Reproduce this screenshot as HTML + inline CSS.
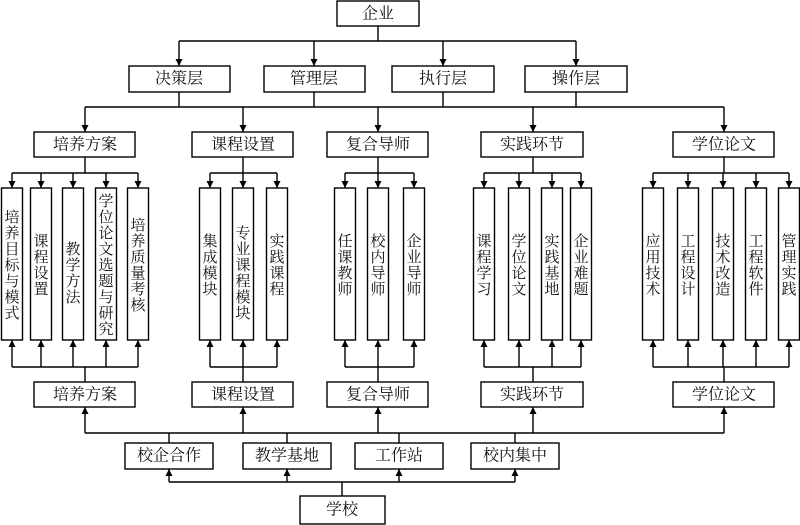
<!DOCTYPE html>
<html><head><meta charset="utf-8"><style>
html,body{margin:0;padding:0;background:#fff;}
svg{display:block;}
text{font-family:"Liberation Serif","Noto Serif CJK SC",serif;fill:#111;}
.b{font-size:16px;text-anchor:middle;dominant-baseline:central;}
.v{font-size:15px;text-anchor:middle;}
</style></head><body>
<svg width="800" height="525" viewBox="0 0 800 525">
<defs>
<marker id="a" viewBox="0 0 10 10" refX="10" refY="5" markerWidth="7" markerHeight="7" markerUnits="userSpaceOnUse" orient="auto"><path d="M0,0 L10,5 L0,10 z" fill="#000"/></marker>
</defs>
<g fill="none" stroke="#000" stroke-width="1.4">
<path d="M378 26V41M179 41H576"/>
<path d="M179 92V107M314 92V107M443 92V107M576 92V107M85 107H724"/>
<path d="M85 157V173M12 173H138M243 157V173M210 173H277M378 157V173M345 173H414M533 157V173M484 173H581M724 157V173M653 173H789"/>
<path d="M85 382V367M12 367H138M243 382V367M210 367H277M378 382V367M345 367H414M533 382V367M484 367H581M724 382V367M653 367H789"/>
<path d="M85 433H724M169 443V433M287 443V433M399 443V433M515 443V433"/>
<path d="M342 496V482M169 482H515"/>
</g>
<g fill="none" stroke="#000" stroke-width="1.4" marker-end="url(#a)">
<path d="M179 41V66"/><path d="M314 41V66"/><path d="M443 41V66"/><path d="M576 41V66"/>
<path d="M85 107V132"/><path d="M243 107V132"/><path d="M378 107V132"/><path d="M533 107V132"/><path d="M724 107V132"/>
<path d="M12 173V188"/><path d="M41 173V188"/><path d="M73 173V188"/><path d="M106 173V188"/><path d="M138 173V188"/>
<path d="M210 173V188"/><path d="M243 173V188"/><path d="M277 173V188"/>
<path d="M345 173V188"/><path d="M378 173V188"/><path d="M414 173V188"/>
<path d="M484 173V188"/><path d="M519 173V188"/><path d="M552 173V188"/><path d="M581 173V188"/>
<path d="M653 173V188"/><path d="M688 173V188"/><path d="M723 173V188"/><path d="M756 173V188"/><path d="M789 173V188"/>
<path d="M12 367V340"/><path d="M41 367V340"/><path d="M73 367V340"/><path d="M106 367V340"/><path d="M138 367V340"/>
<path d="M210 367V340"/><path d="M243 367V340"/><path d="M277 367V340"/>
<path d="M345 367V340"/><path d="M378 367V340"/><path d="M414 367V340"/>
<path d="M484 367V340"/><path d="M519 367V340"/><path d="M552 367V340"/><path d="M581 367V340"/>
<path d="M653 367V340"/><path d="M688 367V340"/><path d="M723 367V340"/><path d="M756 367V340"/><path d="M789 367V340"/>
<path d="M85 433V407"/><path d="M243 433V407"/><path d="M378 433V407"/><path d="M533 433V407"/><path d="M724 433V407"/>
<path d="M169 482V469"/><path d="M287 482V469"/><path d="M399 482V469"/><path d="M515 482V469"/>
</g>
<g fill="#fff" stroke="#000" stroke-width="1.4">
<rect x="337" y="1" width="82" height="25"/>
<rect x="129" y="66" width="101" height="26"/>
<rect x="264" y="66" width="101" height="26"/>
<rect x="392" y="66" width="102" height="26"/>
<rect x="525" y="66" width="102" height="26"/>
<rect x="34" y="132" width="101" height="25"/>
<rect x="192" y="132" width="101" height="25"/>
<rect x="327" y="132" width="101" height="25"/>
<rect x="481" y="132" width="102" height="25"/>
<rect x="673" y="132" width="101" height="25"/>
<rect x="34" y="382" width="101" height="25"/>
<rect x="192" y="382" width="101" height="25"/>
<rect x="327" y="382" width="101" height="25"/>
<rect x="481" y="382" width="102" height="25"/>
<rect x="673" y="382" width="101" height="25"/>
<rect x="125" y="443" width="88" height="26"/>
<rect x="243" y="443" width="88" height="26"/>
<rect x="355" y="443" width="88" height="26"/>
<rect x="471" y="443" width="88" height="26"/>
<rect x="300" y="496" width="85" height="28"/>
<rect x="1.5" y="188" width="21" height="152"/>
<rect x="30.5" y="188" width="21" height="152"/>
<rect x="62.5" y="188" width="21" height="152"/>
<rect x="95.5" y="188" width="21" height="152"/>
<rect x="127.5" y="188" width="21" height="152"/>
<rect x="199.5" y="188" width="21" height="152"/>
<rect x="232.5" y="188" width="21" height="152"/>
<rect x="266.5" y="188" width="21" height="152"/>
<rect x="334.5" y="188" width="21" height="152"/>
<rect x="367.5" y="188" width="21" height="152"/>
<rect x="403.5" y="188" width="21" height="152"/>
<rect x="473.5" y="188" width="21" height="152"/>
<rect x="508.5" y="188" width="21" height="152"/>
<rect x="541.5" y="188" width="21" height="152"/>
<rect x="570.5" y="188" width="21" height="152"/>
<rect x="642.5" y="188" width="21" height="152"/>
<rect x="677.5" y="188" width="21" height="152"/>
<rect x="712.5" y="188" width="21" height="152"/>
<rect x="745.5" y="188" width="21" height="152"/>
<rect x="778.5" y="188" width="21" height="152"/>
</g>
<text class="b" x="378" y="14">企业</text>
<text class="b" x="179" y="79">决策层</text>
<text class="b" x="314" y="79">管理层</text>
<text class="b" x="443" y="79">执行层</text>
<text class="b" x="576" y="79">操作层</text>
<text class="b" x="85" y="145">培养方案</text>
<text class="b" x="243" y="145">课程设置</text>
<text class="b" x="378" y="145">复合导师</text>
<text class="b" x="532" y="145">实践环节</text>
<text class="b" x="724" y="145">学位论文</text>
<text class="b" x="85" y="395">培养方案</text>
<text class="b" x="243" y="395">课程设置</text>
<text class="b" x="378" y="395">复合导师</text>
<text class="b" x="532" y="395">实践环节</text>
<text class="b" x="724" y="395">学位论文</text>
<text class="b" x="169" y="456">校企合作</text>
<text class="b" x="287" y="456">教学基地</text>
<text class="b" x="399" y="456">工作站</text>
<text class="b" x="515" y="456">校内集中</text>
<text class="b" x="342" y="510">学校</text>
<text class="v" x="12"><tspan x="12" y="222">培</tspan><tspan x="12" dy="16">养</tspan><tspan x="12" dy="16">目</tspan><tspan x="12" dy="16">标</tspan><tspan x="12" dy="16">与</tspan><tspan x="12" dy="16">模</tspan><tspan x="12" dy="16">式</tspan></text>
<text class="v" x="41"><tspan x="41" y="246">课</tspan><tspan x="41" dy="16">程</tspan><tspan x="41" dy="16">设</tspan><tspan x="41" dy="16">置</tspan></text>
<text class="v" x="73"><tspan x="73" y="254">教</tspan><tspan x="73" dy="16">学</tspan><tspan x="73" dy="16">方</tspan><tspan x="73" dy="16">法</tspan></text>
<text class="v" x="106"><tspan x="106" y="206">学</tspan><tspan x="106" dy="16">位</tspan><tspan x="106" dy="16">论</tspan><tspan x="106" dy="16">文</tspan><tspan x="106" dy="16">选</tspan><tspan x="106" dy="16">题</tspan><tspan x="106" dy="16">与</tspan><tspan x="106" dy="16">研</tspan><tspan x="106" dy="16">究</tspan></text>
<text class="v" x="138"><tspan x="138" y="230">培</tspan><tspan x="138" dy="16">养</tspan><tspan x="138" dy="16">质</tspan><tspan x="138" dy="16">量</tspan><tspan x="138" dy="16">考</tspan><tspan x="138" dy="16">核</tspan></text>
<text class="v" x="210"><tspan x="210" y="246">集</tspan><tspan x="210" dy="16">成</tspan><tspan x="210" dy="16">模</tspan><tspan x="210" dy="16">块</tspan></text>
<text class="v" x="243"><tspan x="243" y="238">专</tspan><tspan x="243" dy="16">业</tspan><tspan x="243" dy="16">课</tspan><tspan x="243" dy="16">程</tspan><tspan x="243" dy="16">模</tspan><tspan x="243" dy="16">块</tspan></text>
<text class="v" x="277"><tspan x="277" y="246">实</tspan><tspan x="277" dy="16">践</tspan><tspan x="277" dy="16">课</tspan><tspan x="277" dy="16">程</tspan></text>
<text class="v" x="345"><tspan x="345" y="246">任</tspan><tspan x="345" dy="16">课</tspan><tspan x="345" dy="16">教</tspan><tspan x="345" dy="16">师</tspan></text>
<text class="v" x="378"><tspan x="378" y="246">校</tspan><tspan x="378" dy="16">内</tspan><tspan x="378" dy="16">导</tspan><tspan x="378" dy="16">师</tspan></text>
<text class="v" x="414"><tspan x="414" y="246">企</tspan><tspan x="414" dy="16">业</tspan><tspan x="414" dy="16">导</tspan><tspan x="414" dy="16">师</tspan></text>
<text class="v" x="484"><tspan x="484" y="246">课</tspan><tspan x="484" dy="16">程</tspan><tspan x="484" dy="16">学</tspan><tspan x="484" dy="16">习</tspan></text>
<text class="v" x="519"><tspan x="519" y="246">学</tspan><tspan x="519" dy="16">位</tspan><tspan x="519" dy="16">论</tspan><tspan x="519" dy="16">文</tspan></text>
<text class="v" x="552"><tspan x="552" y="246">实</tspan><tspan x="552" dy="16">践</tspan><tspan x="552" dy="16">基</tspan><tspan x="552" dy="16">地</tspan></text>
<text class="v" x="581"><tspan x="581" y="246">企</tspan><tspan x="581" dy="16">业</tspan><tspan x="581" dy="16">难</tspan><tspan x="581" dy="16">题</tspan></text>
<text class="v" x="653"><tspan x="653" y="246">应</tspan><tspan x="653" dy="16">用</tspan><tspan x="653" dy="16">技</tspan><tspan x="653" dy="16">术</tspan></text>
<text class="v" x="688"><tspan x="688" y="246">工</tspan><tspan x="688" dy="16">程</tspan><tspan x="688" dy="16">设</tspan><tspan x="688" dy="16">计</tspan></text>
<text class="v" x="723"><tspan x="723" y="246">技</tspan><tspan x="723" dy="16">术</tspan><tspan x="723" dy="16">改</tspan><tspan x="723" dy="16">造</tspan></text>
<text class="v" x="756"><tspan x="756" y="246">工</tspan><tspan x="756" dy="16">程</tspan><tspan x="756" dy="16">软</tspan><tspan x="756" dy="16">件</tspan></text>
<text class="v" x="789"><tspan x="789" y="246">管</tspan><tspan x="789" dy="16">理</tspan><tspan x="789" dy="16">实</tspan><tspan x="789" dy="16">践</tspan></text>
</svg>
</body></html>
